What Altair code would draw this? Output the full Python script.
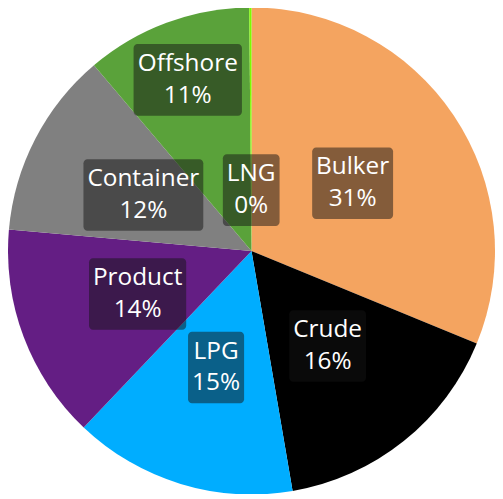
import math
import altair as alt
import pandas as pd

# ---- data ----
names = ["Bulker", "Crude", "LPG", "Product", "Container", "Offshore", "LNG"]
shares = [31.2, 16.1, 14.8, 14.3, 12.4, 11.05, 0.15]
colors = ["#F4A460", "#000000", "#00ADFF", "#641E84", "#808080", "#5AA23A", "#7CFC00"]

# ---- styling ----
R = 245            # pie radius (px)
W, H = 490, 486    # plot area
FONT = "Open Sans"
FS = 24.5
LH = 32
PAD_X, PAD_Y = 4, 4

# approximate advance widths (em) for Open Sans
CW = {"a": .556, "b": .613, "c": .476, "d": .613, "e": .561, "f": .339, "g": .548,
      "h": .614, "i": .253, "k": .525, "l": .253, "n": .614, "o": .604, "r": .408,
      "s": .477, "t": .353, "u": .614, "B": .635, "C": .631, "G": .714, "L": .528,
      "N": .76, "O": .781, "P": .595, "%": .831}


def text_w(s):
    return sum(CW.get(ch, .572) for ch in s) * FS


total = sum(shares)
rows = []
placed = []
cum = 0.0
for i, (n, v) in enumerate(zip(names, shares)):
    mid = 2 * math.pi * (cum + v / 2) / total
    cum += v
    pct = f"{round(v / total * 100)}%"
    hw = max(text_w(n), text_w(pct)) / 2 + PAD_X
    hh = LH + PAD_Y
    for f in (0.5, 0.25, 0.75, 0.9):
        cx, cy = f * R * math.sin(mid), f * R * math.cos(mid)
        box = (cx - hw, cx + hw, cy - hh, cy + hh)
        ok = all(box[1] <= b[0] or box[0] >= b[1] or box[3] <= b[2] or box[2] >= b[3]
                 for b in placed)
        if ok:
            break
    placed.append(box)
    rows.append(dict(idx=i, name=n, share=v, label=f"{n}\n{pct}",
                     cx=cx, cy=cy, x0=box[0], x1=box[1], y0=box[2], y1=box[3]))

df = pd.DataFrame(rows)

xs = alt.Scale(domain=[-W / 2, W / 2], nice=False, zero=False)
ys = alt.Scale(domain=[-H / 2, H / 2], nice=False, zero=False)

arcs = alt.Chart(df).mark_arc(radius=R).encode(
    theta=alt.Theta("share:Q", stack=True),
    color=alt.Color("name:N", scale=alt.Scale(domain=names, range=colors), legend=None),
    order=alt.Order("idx:Q"),
)

boxes = alt.Chart(df).mark_rect(cornerRadius=4, color="#141414", opacity=0.5).encode(
    x=alt.X("x0:Q", scale=xs, axis=None),
    x2="x1:Q",
    y=alt.Y("y0:Q", scale=ys, axis=None),
    y2="y1:Q",
)

texts = alt.Chart(df).mark_text(
    font=FONT, fontSize=FS, color="white", lineBreak="\n", lineHeight=LH,
    align="center", baseline="middle", dy=-LH / 2,
).encode(
    x=alt.X("cx:Q", scale=xs, axis=None),
    y=alt.Y("cy:Q", scale=ys, axis=None),
    text="label:N",
)

chart = alt.layer(arcs, boxes, texts).properties(
    width=W, height=H, padding=0,
    autosize=alt.AutoSizeParams(type="none"),
).configure_view(stroke=None)

chart.save("out.html", embed_options={"renderer": "svg", "actions": False})
